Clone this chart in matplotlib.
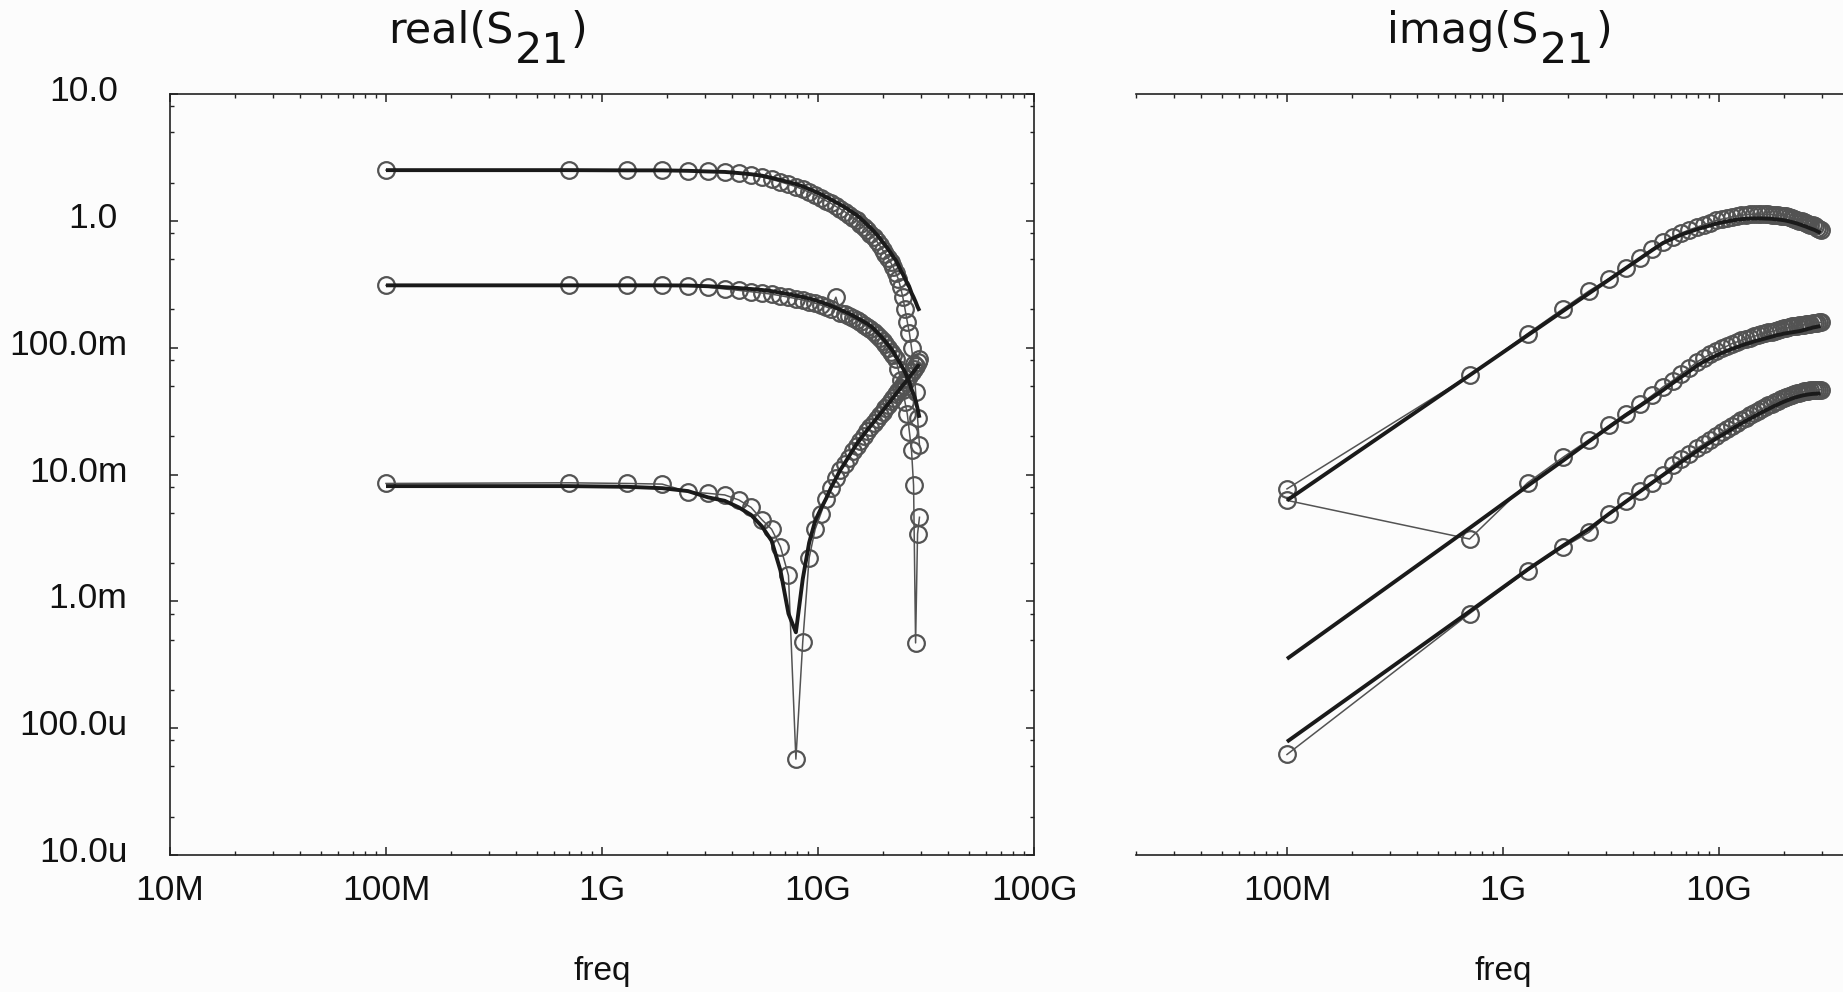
import numpy as np
import matplotlib
matplotlib.use("Agg")
import matplotlib.pyplot as plt
from matplotlib.ticker import LogLocator, NullFormatter
import matplotlib.transforms as mtransforms

# ---------------- data ----------------
freq_ghz = [0.1, 0.7, 1.3, 1.9, 2.5, 3.1, 3.7, 4.3, 4.9, 5.5,
            6.1, 6.7, 7.3, 7.9, 8.5, 9.1, 9.7, 10.3, 10.9, 11.5,
            12.1, 12.7, 13.3, 13.9, 14.5, 15.1, 15.7, 16.3, 16.9, 17.5,
            18.1, 18.7, 19.3, 19.9, 20.5, 21.1, 21.7, 22.3, 22.9, 23.5,
            24.1, 24.7, 25.3, 25.9, 26.5, 27.1, 27.7, 28.3, 28.9, 29.5]

# real(S21): three traces, model (thick) and measured (circles)
real_model_a = [2.51, 2.51, 2.50, 2.50, 2.48, 2.45, 2.43, 2.38, 2.33, 2.27,
                2.18, 2.10, 2.02, 1.95, 1.87, 1.78, 1.70, 1.62, 1.54, 1.47,
                1.40, 1.34, 1.28, 1.22, 1.16, 1.11, 1.05, 0.99, 0.93, 0.88,
                0.83, 0.78, 0.73, 0.68, 0.64, 0.60, 0.56, 0.52, 0.49, 0.45,
                0.41, 0.38, 0.35, 0.32, 0.30, 0.27, 0.25, 0.23, 0.21, 0.195]
real_meas_a = [2.51, 2.51, 2.50, 2.50, 2.48, 2.45, 2.42, 2.37, 2.30, 2.22,
               2.12, 2.03, 1.94, 1.86, 1.77, 1.68, 1.60, 1.52, 1.44, 1.37,
               1.30, 1.24, 1.18, 1.12, 1.06, 1.01, 0.95, 0.90, 0.84, 0.79,
               0.74, 0.69, 0.64, 0.59, 0.55, 0.51, 0.47, 0.43, 0.39, 0.35,
               0.30, 0.25, 0.20, 0.16, 0.13, 0.10, 0.075, 0.045, 0.028, 0.017]
real_model_b = [0.31, 0.31, 0.31, 0.31, 0.309, 0.305, 0.300, 0.295, 0.290, 0.285,
                0.279, 0.271, 0.264, 0.257, 0.251, 0.244, 0.237, 0.229, 0.221, 0.214,
                0.206, 0.199, 0.192, 0.186, 0.179, 0.172, 0.166, 0.160, 0.154, 0.148,
                0.141, 0.133, 0.126, 0.119, 0.112, 0.105, 0.099, 0.093, 0.086, 0.080,
                0.074, 0.069, 0.064, 0.058, 0.053, 0.047, 0.043, 0.0385, 0.033, 0.028]
real_meas_b = [0.31, 0.31, 0.31, 0.31, 0.307, 0.30, 0.29, 0.283, 0.276, 0.27,
               0.264, 0.257, 0.25, 0.244, 0.238, 0.231, 0.224, 0.217, 0.21, 0.203,
               0.25, 0.189, 0.183, 0.177, 0.17, 0.164, 0.158, 0.152, 0.146, 0.140,
               0.134, 0.127, 0.12, 0.113, 0.106, 0.099, 0.093, 0.087, 0.082, 0.068,
               0.056, 0.046, 0.037, 0.030, 0.0216, 0.0155, 0.0082, 0.00047, 0.0034, 0.0046]
real_model_c = [0.0081, 0.0081, 0.0080, 0.0078, 0.0074, 0.0066, 0.0062, 0.0055, 0.0048, 0.0039,
                0.0030, 0.00175, 0.0008, 0.00057, 0.0015, 0.0029, 0.0043, 0.00535, 0.00645, 0.0079,
                0.0093, 0.0109, 0.0123, 0.0139, 0.0156, 0.0174, 0.0190, 0.0207, 0.0224, 0.0241,
                0.0259, 0.0278, 0.0297, 0.0317, 0.0338, 0.0359, 0.0381, 0.0405, 0.0430, 0.0453,
                0.0479, 0.0506, 0.0530, 0.0558, 0.0587, 0.0617, 0.0646, 0.0679, 0.0711, 0.0743]
real_meas_c = [0.0085, 0.0086, 0.0085, 0.0084, 0.0073, 0.0071, 0.0069, 0.0063, 0.0055, 0.0044,
               0.0037, 0.0027, 0.0016, 0.000057, 0.00048, 0.0022, 0.0037, 0.0049, 0.0064, 0.0078,
               0.0093, 0.0108, 0.0122, 0.0136, 0.0152, 0.0169, 0.0185, 0.0202, 0.0219, 0.0236,
               0.0254, 0.0273, 0.0293, 0.0313, 0.0334, 0.0356, 0.0379, 0.0403, 0.0429, 0.0455,
               0.0482, 0.051, 0.054, 0.057, 0.060, 0.064, 0.068, 0.072, 0.077, 0.082]

# imag(S21)
imag_model_d = [0.00625, 0.0605, 0.125, 0.195, 0.268, 0.344, 0.423, 0.504, 0.587, 0.668,
                0.724, 0.778, 0.818, 0.857, 0.889, 0.920, 0.951, 0.973, 0.991, 1.007,
                1.021, 1.030, 1.038, 1.042, 1.045, 1.045, 1.045, 1.042, 1.040, 1.038,
                1.030, 1.026, 1.019, 1.012, 1.002, 0.991, 0.979, 0.966, 0.955, 0.940,
                0.927, 0.912, 0.900, 0.885, 0.871, 0.859, 0.847, 0.832, 0.817, 0.803]
imag_meas_d = [0.0077, 0.0605, 0.129, 0.203, 0.28, 0.35, 0.428, 0.505, 0.598, 0.68,
               0.746, 0.801, 0.851, 0.891, 0.933, 0.966, 1.008, 1.031, 1.050, 1.077,
               1.092, 1.102, 1.121, 1.125, 1.129, 1.129, 1.129, 1.125, 1.123, 1.121,
               1.112, 1.108, 1.101, 1.093, 1.082, 1.070, 1.048, 1.034, 1.022, 1.006,
               0.992, 0.976, 0.963, 0.947, 0.932, 0.919, 0.906, 0.882, 0.866, 0.851]
imag_model_e = [0.000352, 0.00378, 0.00813, 0.0129, 0.0182, 0.0237, 0.0293, 0.0347, 0.0403, 0.0462,
                0.0525, 0.0589, 0.0652, 0.0721, 0.0776, 0.0822, 0.0865, 0.0908, 0.0944, 0.098,
                0.101, 0.104, 0.107, 0.109, 0.112, 0.114, 0.116, 0.118, 0.120, 0.122,
                0.124, 0.126, 0.127, 0.129, 0.130, 0.131, 0.132, 0.133, 0.134, 0.135,
                0.136, 0.138, 0.139, 0.141, 0.142, 0.144, 0.145, 0.146, 0.147, 0.148]
imag_meas_e = [0.00625, 0.0031, 0.0086, 0.0137, 0.0188, 0.0244, 0.0302, 0.0357, 0.042, 0.049,
               0.055, 0.0624, 0.0691, 0.0771, 0.083, 0.0888, 0.0934, 0.099, 0.1029, 0.1078,
               0.111, 0.114, 0.118, 0.120, 0.123, 0.125, 0.128, 0.130, 0.132, 0.134,
               0.136, 0.139, 0.140, 0.142, 0.143, 0.145, 0.147, 0.148, 0.149, 0.150,
               0.151, 0.152, 0.153, 0.154, 0.155, 0.156, 0.157, 0.157, 0.158, 0.158]
imag_model_f = [7.82e-5, 8.32e-4, 1.78e-3, 2.75e-3, 3.72e-3, 4.90e-3, 6.10e-3, 7.33e-3, 8.61e-3, 9.89e-3,
                1.12e-2, 1.26e-2, 1.39e-2, 1.53e-2, 1.66e-2, 1.79e-2, 1.92e-2, 2.04e-2, 2.16e-2, 2.29e-2,
                2.41e-2, 2.53e-2, 2.64e-2, 2.75e-2, 2.86e-2, 2.97e-2, 3.08e-2, 3.18e-2, 3.28e-2, 3.38e-2,
                3.48e-2, 3.56e-2, 3.66e-2, 3.74e-2, 3.82e-2, 3.89e-2, 3.96e-2, 4.03e-2, 4.08e-2, 4.13e-2,
                4.18e-2, 4.22e-2, 4.25e-2, 4.28e-2, 4.30e-2, 4.32e-2, 4.33e-2, 4.34e-2, 4.35e-2, 4.36e-2]
imag_meas_f = [6.2e-5, 8.0e-4, 1.75e-3, 2.67e-3, 3.5e-3, 4.9e-3, 6.2e-3, 7.4e-3, 8.5e-3, 1.0e-2,
               1.18e-2, 1.32e-2, 1.46e-2, 1.61e-2, 1.74e-2, 1.88e-2, 2.02e-2, 2.15e-2, 2.28e-2, 2.42e-2,
               2.55e-2, 2.68e-2, 2.80e-2, 2.92e-2, 3.04e-2, 3.16e-2, 3.28e-2, 3.39e-2, 3.50e-2, 3.61e-2,
               3.72e-2, 3.81e-2, 3.91e-2, 4.00e-2, 4.09e-2, 4.16e-2, 4.24e-2, 4.31e-2, 4.37e-2, 4.42e-2,
               4.47e-2, 4.52e-2, 4.55e-2, 4.58e-2, 4.60e-2, 4.62e-2, 4.63e-2, 4.64e-2, 4.65e-2, 4.66e-2]

x_tick_values = [1e7, 1e8, 1e9, 1e10, 1e11]
x_tick_labels = ["10M", "100M", "1G", "10G", "100G"]
y_tick_values = [1e-5, 1e-4, 1e-3, 1e-2, 1e-1, 1.0, 10.0]
y_tick_labels = ["10.0u", "100.0u", "1.0m", "10.0m", "100.0m", "1.0", "10.0"]

# ---------------- figure ----------------
plt.rcParams['font.family'] = ['Liberation Sans', 'DejaVu Sans']
bg = '#fcfcfc'
W, H = 1843, 992
fig = plt.figure(figsize=(W / 100, H / 100), dpi=100, facecolor=bg)

ax1 = fig.add_axes([170 / W, 137 / H, 864 / W, 761 / H], facecolor=bg)
ax2 = fig.add_axes([1136 / W, 137 / H, 734 / W, 761 / H], facecolor=bg)

freq = np.array(freq_ghz) * 1e9

model_kw = dict(color='#1a1a1a', lw=2.8, solid_capstyle='butt', zorder=3)
meas_kw = dict(color='#535353', lw=1.1, marker='o', ms=12, mfc='none',
               mec='#535353', mew=1.6, zorder=2)

for meas, model in [(real_meas_a, real_model_a), (real_meas_b, real_model_b),
                    (real_meas_c, real_model_c)]:
    ax1.plot(freq, meas, **meas_kw)
    ax1.plot(freq, model, **model_kw)

for meas, model in [(imag_meas_d, imag_model_d), (imag_meas_e, imag_model_e),
                    (imag_meas_f, imag_model_f)]:
    ax2.plot(freq, meas, **meas_kw)
    ax2.plot(freq, model, **model_kw)

spine_col = '#222222'
for ax, xlim in [(ax1, (1e7, 1e11)), (ax2, (2e7, 5e10))]:
    ax.set_xscale('log')
    ax.set_yscale('log')
    ax.set_xticks(x_tick_values, x_tick_labels)
    ax.xaxis.set_minor_locator(LogLocator(base=10, subs=np.arange(2, 10), numticks=30))
    ax.xaxis.set_minor_formatter(NullFormatter())
    ax.set_xlim(*xlim)
    ax.set_ylim(1e-5, 10)
    for s in ax.spines.values():
        s.set_color(spine_col)
        s.set_linewidth(1.2)
    ax.tick_params(axis='both', which='major', direction='in', length=6, width=1.1,
                   color=spine_col, labelsize=25.5, labelcolor='#111111')
    ax.tick_params(axis='both', which='minor', direction='in', length=3, width=1.0,
                   color=spine_col)
    ax.tick_params(axis='x', which='both', top=True, bottom=True, pad=14)

# left panel: y axis on both sides
ax1.set_yticks(y_tick_values, y_tick_labels)
ax1.yaxis.set_minor_locator(LogLocator(base=10, subs=[2, 5, 8], numticks=30))
ax1.yaxis.set_minor_formatter(NullFormatter())
ax1.set_ylim(1e-5, 10)
ax1.tick_params(axis='y', which='both', left=True, right=True, pad=37.5)
for lab, txt in zip(ax1.get_yticklabels(), y_tick_labels):
    dx = 9.5 if txt[-1] in "mu" else 0.0
    shift = mtransforms.ScaledTranslation(dx / 100, 6 / 100, fig.dpi_scale_trans)
    lab.set_transform(lab.get_transform() + shift)

# right panel: only top/bottom frame lines
ax2.spines['left'].set_visible(False)
ax2.spines['right'].set_visible(False)
ax2.tick_params(axis='y', which='both', left=False, right=False, labelleft=False)
ax2.set_ylim(1e-5, 10)


def title(x_px, word):
    t1 = fig.text(x_px / W, 1 - 43 / H, word + "(S", fontsize=31,
                  family='DejaVu Sans', va='baseline', ha='left', color='#111111')
    t2 = ax1.annotate("21", xy=(1, 0), xycoords=t1, xytext=(1, -14.4),
                      textcoords='offset points', va='bottom', ha='left',
                      fontsize=31, family='DejaVu Sans', color='#111111',
                      annotation_clip=False)
    ax1.annotate(")", xy=(1, 0), xycoords=t2, xytext=(1, 14.4),
                 textcoords='offset points', va='bottom', ha='left',
                 fontsize=31, family='DejaVu Sans', color='#111111',
                 annotation_clip=False)


title(388, "real")
title(1387, "imag")

fig.text(602 / W, 12 / H, "freq", fontsize=24, ha='center', va='baseline', color='#111111')
fig.text(1503 / W, 12 / H, "freq", fontsize=24, ha='center', va='baseline', color='#111111')

fig.savefig("out.png", dpi=100, facecolor=bg)
